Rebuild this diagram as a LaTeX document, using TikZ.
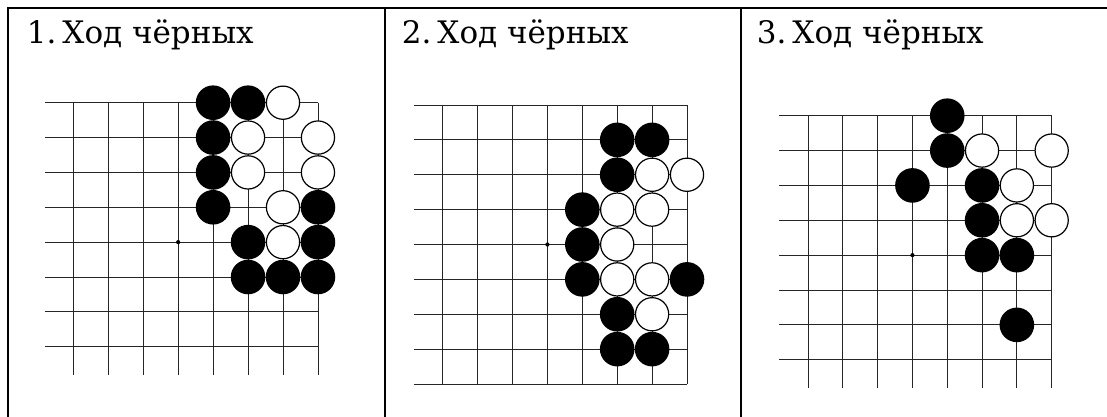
\documentclass[tikz,border=0pt]{standalone}
\usepackage{fontspec}
\setmainfont{DejaVu Serif}
\tikzset{
  frame/.style={line width=2pt, line cap=rect},
  gridline/.style={line width=0.9pt, draw=black!85},
  bstone/.style={circle, inner sep=0pt, minimum size=34.6pt, fill=black},
  wstone/.style={circle, inner sep=0pt, minimum size=33.2pt, fill=white, draw=black, line width=1.2pt},
  star/.style={circle, inner sep=0pt, minimum size=4.2pt, fill=black},
  title/.style={anchor=base west, inner sep=0pt, font=\fontsize{31}{36}\selectfont}
}
\begin{document}
\begin{tikzpicture}[x=1pt,y=-1pt]
\useasboundingbox (0,0) rectangle (1107,417);
% frame
\draw[frame] (7.5,417) -- (7.5,7.7) -- (1107,7.7);
\draw[frame] (385,7.7) -- (385,417);
\draw[frame] (741,7.7) -- (741,417);
% titles
\node[title] (t1) at (26.7,43.3) {1.\kern6pt Ход чёрных};
\node[title] (t2) at (401.7,43.3) {2.\kern6pt Ход чёрных};
\node[title] (t3) at (756.7,43.3) {3.\kern6pt Ход чёрных};
% panel 1
\begin{scope}[shift={(73.3,102.7)}, x=34.95pt, y=-34.86pt]
  \foreach \r in {0,...,7} \draw[gridline] (-0.81,\r) -- (7,\r);
  \foreach \c in {0,...,7} \draw[gridline] (\c,0) -- (\c,7.81);
  \node[star] (p1star) at (3,4) {};
  \node[bstone] (p1a) at (4,0) {};
  \node[bstone] (p1b) at (5,0) {};
  \node[wstone] (p1c) at (6,0) {};
  \node[bstone] (p1d) at (4,1) {};
  \node[wstone] (p1e) at (5,1) {};
  \node[wstone] (p1f) at (7,1) {};
  \node[bstone] (p1g) at (4,2) {};
  \node[wstone] (p1h) at (5,2) {};
  \node[wstone] (p1i) at (7,2) {};
  \node[bstone] (p1j) at (4,3) {};
  \node[wstone] (p1k) at (6,3) {};
  \node[bstone] (p1l) at (7,3) {};
  \node[bstone] (p1m) at (5,4) {};
  \node[wstone] (p1n) at (6,4) {};
  \node[bstone] (p1o) at (7,4) {};
  \node[bstone] (p1p) at (5,5) {};
  \node[bstone] (p1q) at (6,5) {};
  \node[bstone] (p1r) at (7,5) {};
\end{scope}
% panel 2
\begin{scope}[shift={(442.7,105)}, x=34.9pt, y=-34.875pt]
  \foreach \r in {0,...,8} \draw[gridline] (-0.81,\r) -- (7,\r);
  \foreach \c in {0,...,7} \draw[gridline] (\c,0) -- (\c,8);
  \node[star] (p2star) at (3,4) {};
  \node[bstone] (p2a) at (5,1) {};
  \node[bstone] (p2b) at (6,1) {};
  \node[bstone] (p2c) at (5,2) {};
  \node[wstone] (p2d) at (6,2) {};
  \node[wstone] (p2e) at (7,2) {};
  \node[bstone] (p2f) at (4,3) {};
  \node[wstone] (p2g) at (5,3) {};
  \node[wstone] (p2h) at (6,3) {};
  \node[bstone] (p2i) at (4,4) {};
  \node[wstone] (p2j) at (5,4) {};
  \node[bstone] (p2k) at (4,5) {};
  \node[wstone] (p2l) at (5,5) {};
  \node[wstone] (p2m) at (6,5) {};
  \node[bstone] (p2n) at (7,5) {};
  \node[bstone] (p2o) at (5,6) {};
  \node[wstone] (p2p) at (6,6) {};
  \node[bstone] (p2q) at (5,7) {};
  \node[bstone] (p2r) at (6,7) {};
\end{scope}
% panel 3
\begin{scope}[shift={(808,115.7)}, x=34.81pt, y=-34.86pt]
  \foreach \r in {0,...,7} \draw[gridline] (-0.83,\r) -- (7,\r);
  \foreach \c in {0,...,7} \draw[gridline] (\c,0) -- (\c,7.82);
  \node[star] (p3star) at (3,4) {};
  \node[bstone] (p3a) at (4,0) {};
  \node[bstone] (p3b) at (4,1) {};
  \node[wstone] (p3c) at (5,1) {};
  \node[wstone] (p3d) at (7,1) {};
  \node[bstone] (p3e) at (3,2) {};
  \node[bstone] (p3f) at (5,2) {};
  \node[wstone] (p3g) at (6,2) {};
  \node[bstone] (p3h) at (5,3) {};
  \node[wstone] (p3i) at (6,3) {};
  \node[wstone] (p3j) at (7,3) {};
  \node[bstone] (p3k) at (5,4) {};
  \node[bstone] (p3l) at (6,4) {};
  \node[bstone] (p3m) at (6,6) {};
\end{scope}
\end{tikzpicture}
\end{document}
